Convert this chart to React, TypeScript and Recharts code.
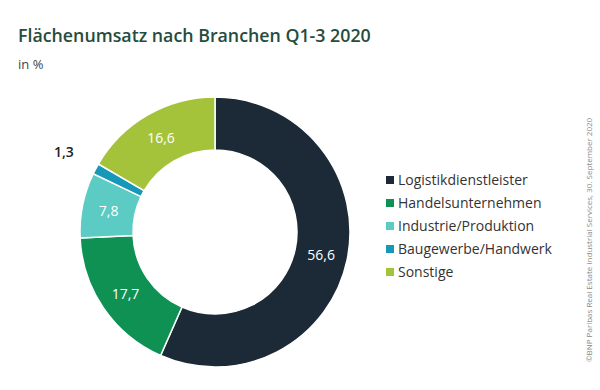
import React from "react";
import { PieChart, Pie, Cell, Legend } from "recharts";

const categories = [
  "Logistikdienstleister",
  "Handelsunternehmen",
  "Industrie/Produktion",
  "Baugewerbe/Handwerk",
  "Sonstige",
];
const values = [56.6, 17.7, 7.8, 1.3, 16.6];
const labels = ["56,6", "17,7", "7,8", "1,3", "16,6"];
const colors = ["#1b2a36", "#0e9152", "#5ccbc4", "#1798b8", "#a5c23b"];

const data = categories.map((name, i) => ({ name, value: values[i], label: labels[i], color: colors[i] }));

const FONT = "'Open Sans', 'Noto Sans', sans-serif";
const RAD = Math.PI / 180;

const renderLabel = (props: any) => {
  const { cx, cy, midAngle, innerRadius, outerRadius, index } = props;
  const d = data[index];
  const outside = d.value < 3;
  const r = outside ? outerRadius + 36 : (innerRadius + outerRadius) / 2;
  const x = cx + r * Math.cos(-midAngle * RAD);
  const y = cy + r * Math.sin(-midAngle * RAD);
  return (
    <text
      x={x}
      y={y}
      textAnchor="middle"
      dominantBaseline="central"
      fill={outside ? "#222" : "#ffffff"}
      fontFamily={FONT}
      fontSize={14}
      fontWeight={outside ? 600 : 400}
    >
      {d.label}
    </text>
  );
};

const renderLegend = () => (
  <div style={{ fontFamily: FONT }}>
    {data.map((d) => (
      <div key={d.name} style={{ display: "flex", alignItems: "center", height: 23, fontSize: 14, color: "#333" }}>
        <span style={{ display: "inline-block", width: 8, height: 8, background: d.color, marginRight: 4 }} />
        <span>{d.name}</span>
      </div>
    ))}
  </div>
);

export default function App() {
  return (
    <div style={{ position: "fixed", left: 0, top: 0, width: 600, height: 390, background: "#fff", overflow: "hidden" }}>
      <div style={{ position: "absolute", left: 18, top: 23, fontFamily: FONT, fontSize: 17.8, fontWeight: 600, color: "#264c3d", whiteSpace: "nowrap" }}>
        Flächenumsatz nach Branchen Q1-3 2020
      </div>
      <div style={{ position: "absolute", left: 18, top: 55, fontFamily: FONT, fontSize: 13, color: "#444" }}>in %</div>
      <PieChart width={600} height={390} style={{ position: "absolute", left: 0, top: 0 }}>
        <Pie
          data={data}
          dataKey="value"
          nameKey="name"
          cx={210}
          cy={227}
          innerRadius={82}
          outerRadius={135}
          startAngle={90}
          endAngle={-270}
          stroke="#ffffff"
          strokeWidth={1.5}
          label={renderLabel}
          labelLine={false}
          isAnimationActive={false}
        >
          {data.map((d) => (
            <Cell key={d.name} fill={d.color} />
          ))}
        </Pie>
        <Legend
          content={renderLegend}
          layout="vertical"
          wrapperStyle={{ position: "absolute", left: 386, top: 168, width: 200 }}
        />
      </PieChart>
      <div
        style={{
          position: "absolute",
          left: 588,
          top: 240,
          transform: "translate(-50%, -50%) rotate(-90deg)",
          fontFamily: FONT,
          fontSize: 8,
          color: "#888",
          whiteSpace: "nowrap",
        }}
      >
        ©BNP Paribas Real Estate Industrial Services, 30. September 2020
      </div>
    </div>
  );
}
